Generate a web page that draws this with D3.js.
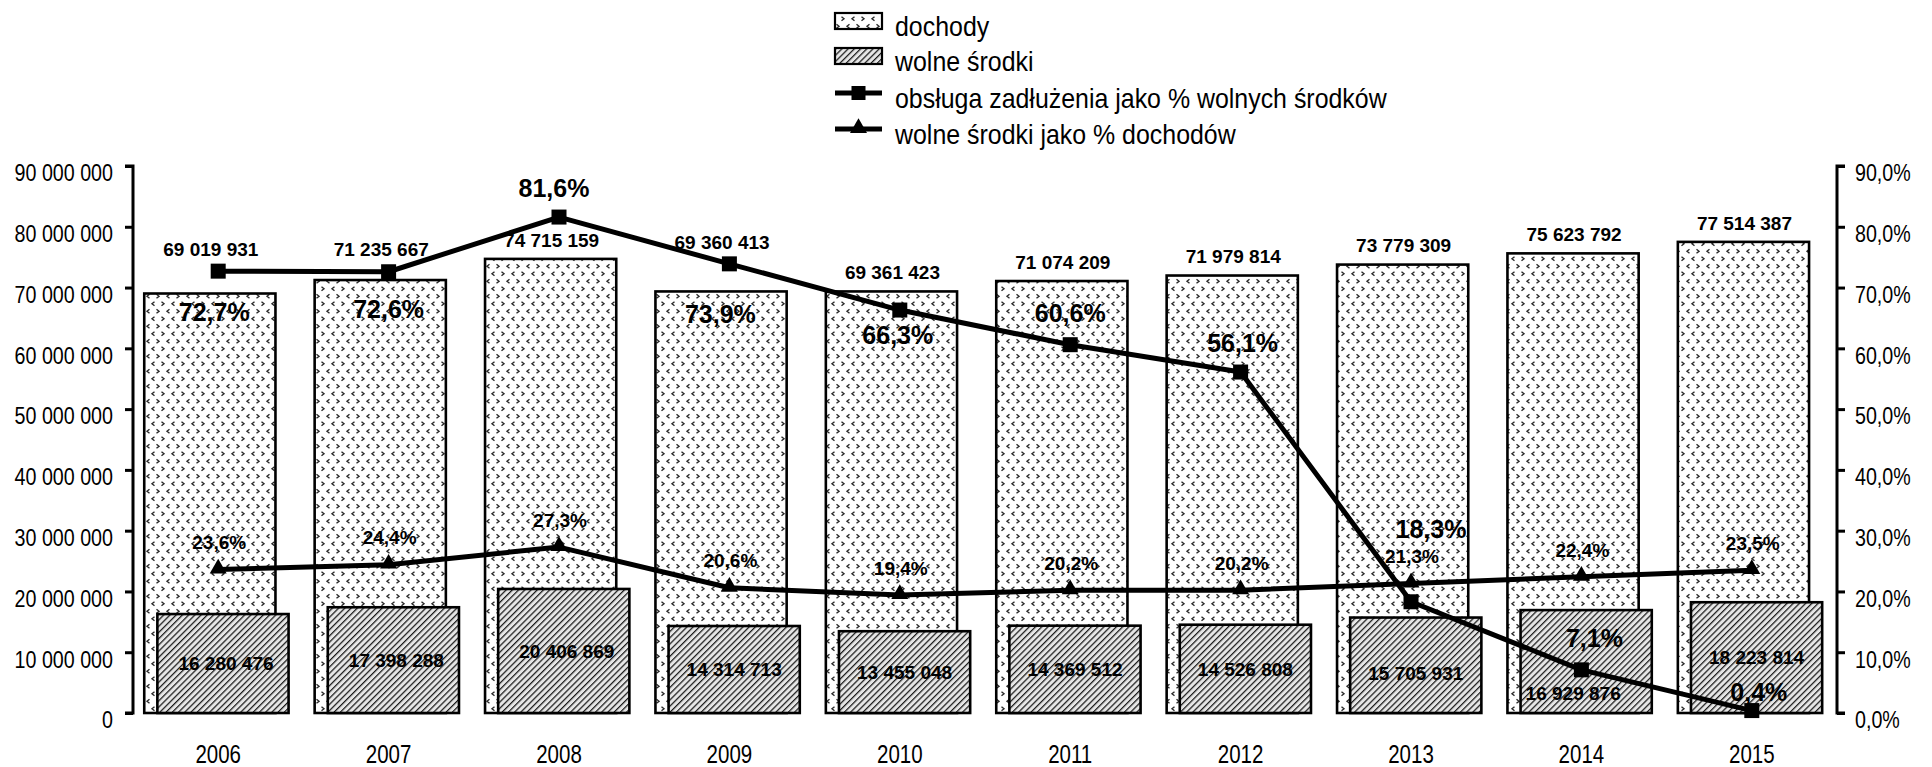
<!DOCTYPE html>
<html>
<head>
<meta charset="utf-8">
<script src="https://cdn.jsdelivr.net/npm/d3@7"></script>
<style>
  html, body { margin: 0; padding: 0; background: #fff; }
  svg { display: block; }
  .narrow { font-family: 'Liberation Sans', Arial, sans-serif; }
  .bold { font-family: 'Liberation Sans', Arial, sans-serif; font-weight: bold; }
</style>
</head>
<body>
<svg id="chart" width="1932" height="767"></svg>
<script>
// ---------------- data ----------------
const years = ['2006','2007','2008','2009','2010','2011','2012','2013','2014','2015'];
const dochody = [69019931, 71235667, 74715159, 69360413, 69361423, 71074209, 71979814, 73779309, 75623792, 77514387];
const wolneSrodki = [16280476, 17398288, 20406869, 14314713, 13455048, 14369512, 14526808, 15705931, 16929876, 18223814];
const obslugaPct = [72.7, 72.6, 81.6, 73.9, 66.3, 60.6, 56.1, 18.3, 7.1, 0.4];
const wolnePct = [23.6, 24.4, 27.3, 20.6, 19.4, 20.2, 20.2, 21.3, 22.4, 23.5];
const leftTicks = [0, 10e6, 20e6, 30e6, 40e6, 50e6, 60e6, 70e6, 80e6, 90e6];
const rightTicks = [0, 10, 20, 30, 40, 50, 60, 70, 80, 90];
const legendLabels = ['dochody', 'wolne środki', 'obsługa zadłużenia jako % wolnych środków', 'wolne środki jako % dochodów'];

// ---------------- layout (label nudges relative to data points) ----------------
const obslugaLabelOffset = [[-4,41],[0,37],[-5,-29],[-9,50],[-2,25],[0,-31],[2,-29],[20,-73],[13,-32],[7,-18]];
const wolneLabelOffset = [[3,0],[3,0],[3,0],[0,0],[0,0],[0,0],[0,0],[0,8],[-13,32],[0,0]];

const svg = d3.select('#chart');
const plotL = 133, plotR = 1837, plotT = 166, plotB = 713;
const SX = 0.82;   // horizontal compression to imitate a narrow face
const SXL = 0.89;  // legend text compression

const loc = d3.formatLocale({decimal: ',', thousands: ' ', grouping: [3], currency: ['', '']});
const fmtInt = loc.format(',d');
const fmtPct = v => loc.format('.1f')(v) + '%';

const x = d3.scaleBand().domain(years).range([plotL, plotR]).paddingInner(0).paddingOuter(0);
const yL = d3.scaleLinear().domain([0, 90e6]).range([plotB, plotT]);
const yR = d3.scaleLinear().domain([0, 90]).range([plotB, plotT]);
const bw = x.bandwidth();
const cx = d => x(d) + bw / 2;
const barW = bw * 0.77;
const dochX = d => cx(d) - bw * 0.434;
const wolnX = d => dochX(d) + bw * 0.077;

// ---------------- patterns ----------------
const defs = svg.append('defs');
const chev = defs.append('pattern').attr('id', 'chev').attr('patternUnits', 'userSpaceOnUse')
  .attr('width', 20).attr('height', 15);
chev.append('rect').attr('width', 20).attr('height', 15).attr('fill', '#fff');
const chevPaths = [
  'M1.5,1.8 L4,3.8 L1.5,5.8', 'M14.5,1.8 L12,3.8 L14.5,5.8',
  'M9.5,9.3 L7,11.3 L9.5,13.3', 'M16.5,9.3 L19,11.3 L16.5,13.3'
];
chevPaths.forEach(p => chev.append('path').attr('d', p).attr('fill', 'none')
  .attr('stroke', '#2a2a2a').attr('stroke-width', 1.4));

const hatch = defs.append('pattern').attr('id', 'hatch').attr('patternUnits', 'userSpaceOnUse')
  .attr('width', 4.4).attr('height', 4.4).attr('patternTransform', 'rotate(45)');
hatch.append('rect').attr('width', 4.4).attr('height', 4.4).attr('fill', '#e6e6e6');
hatch.append('line').attr('x1', 0.6).attr('y1', 0).attr('x2', 0.6).attr('y2', 4.4)
  .attr('stroke', '#1a1a1a').attr('stroke-width', 1.3);

// ---------------- bars ----------------
svg.append('g').selectAll('rect').data(years).join('rect')
  .attr('x', d => dochX(d)).attr('width', barW)
  .attr('y', (d, i) => yL(dochody[i])).attr('height', (d, i) => yL(0) - yL(dochody[i]))
  .attr('fill', 'url(#chev)').attr('stroke', '#000').attr('stroke-width', 2.6);

svg.append('g').selectAll('rect').data(years).join('rect')
  .attr('x', d => wolnX(d)).attr('width', barW)
  .attr('y', (d, i) => yL(wolneSrodki[i])).attr('height', (d, i) => yL(0) - yL(wolneSrodki[i]))
  .attr('fill', 'url(#hatch)').attr('stroke', '#000').attr('stroke-width', 2.6);

// ---------------- axes ----------------
const axL = svg.append('g').attr('transform', `translate(${plotL},0)`)
  .call(d3.axisLeft(yL).tickValues(leftTicks).tickFormat(fmtInt).tickSize(8).tickPadding(12));
const axR = svg.append('g').attr('transform', `translate(${plotR},0)`)
  .call(d3.axisRight(yR).tickValues(rightTicks).tickFormat(fmtPct).tickSize(8).tickPadding(10));
axL.select('.domain').attr('d', `M-8,${plotB}H0V${plotT}H-8`);
axR.select('.domain').attr('d', `M8,${plotB}H0V${plotT}H8`);
[axL, axR].forEach(ax => {
  ax.attr('font-family', null).attr('font-size', null);
  ax.select('.domain').attr('stroke', '#000').attr('stroke-width', 3).attr('fill', 'none');
  ax.selectAll('.tick line').attr('stroke', '#000').attr('stroke-width', 3);
  ax.selectAll('.tick text').attr('class', 'narrow').attr('font-size', 24).attr('fill', '#000')
    .attr('dy', '0.62em')
    .attr('x', function () { return (+d3.select(this).attr('x')) / SX; })
    .attr('transform', `scale(${SX},1)`);
});

const narrowAt = (sel, fx, fy, s) => sel.attr('x', 0).attr('y', 0)
  .attr('transform', (d, i) => `translate(${fx(d, i)},${fy(d, i)}) scale(${s || SX},1)`);

svg.append('g').selectAll('text').data(years).join('text')
  .attr('class', 'narrow').attr('font-size', 25).attr('text-anchor', 'middle')
  .attr('dy', '0.35em').text(d => d)
  .call(narrowAt, d => cx(d), () => plotB + 41);

// ---------------- lines ----------------
const lineGen = d3.line().x((d, i) => cx(years[i])).y(d => yR(d));
svg.append('path').datum(wolnePct).attr('d', lineGen)
  .attr('fill', 'none').attr('stroke', '#000').attr('stroke-width', 5).attr('stroke-linejoin', 'round');
svg.append('path').datum(obslugaPct).attr('d', lineGen)
  .attr('fill', 'none').attr('stroke', '#000').attr('stroke-width', 5).attr('stroke-linejoin', 'round');

const tri = d3.symbol().type(d3.symbolTriangle).size(125);
svg.append('g').selectAll('path').data(wolnePct).join('path')
  .attr('d', tri).attr('transform', (d, i) => `translate(${cx(years[i])},${yR(d) - 1})`).attr('fill', '#000');
svg.append('g').selectAll('rect').data(obslugaPct).join('rect')
  .attr('x', (d, i) => cx(years[i]) - 7.5).attr('y', d => yR(d) - 7.5)
  .attr('width', 15).attr('height', 15).attr('fill', '#000');

// ---------------- labels ----------------
svg.append('g').selectAll('text').data(dochody).join('text')
  .attr('class', 'bold').attr('font-size', 19).attr('text-anchor', 'middle')
  .attr('x', (d, i) => dochX(years[i]) + barW / 2 + 1)
  .attr('y', (d, i) => {
    const barTop = yL(d), m = yR(obslugaPct[i]);
    let yy = barTop - 19;
    if (m < barTop + 5 && m > barTop - 35) yy = Math.min(yy, m - 22);
    return yy;
  })
  .attr('dy', '0.35em').text(d => fmtInt(d));

svg.append('g').selectAll('text').data(wolneSrodki).join('text')
  .attr('class', 'bold').attr('font-size', 19).attr('text-anchor', 'middle')
  .attr('x', (d, i) => wolnX(years[i]) + barW / 2 + wolneLabelOffset[i][0])
  .attr('y', (d, i) => (yL(d) + yL(0)) / 2 + wolneLabelOffset[i][1])
  .attr('dy', '0.35em').text(d => fmtInt(d));

svg.append('g').selectAll('text').data(wolnePct).join('text')
  .attr('class', 'bold').attr('font-size', 19).attr('text-anchor', 'middle')
  .attr('x', (d, i) => cx(years[i]) + 1)
  .attr('y', d => yR(d) - 27)
  .attr('dy', '0.35em').text(d => fmtPct(d));

svg.append('g').selectAll('text').data(obslugaPct).join('text')
  .attr('class', 'bold').attr('font-size', 25).attr('text-anchor', 'middle')
  .attr('x', (d, i) => cx(years[i]) + obslugaLabelOffset[i][0])
  .attr('y', (d, i) => yR(d) + obslugaLabelOffset[i][1])
  .attr('dy', '0.35em').text(d => fmtPct(d));

// ---------------- legend ----------------
const lg = svg.append('g');
const lx = 835, lw = 47, rowY = [21, 56, 93, 129];
lg.append('rect').attr('x', lx).attr('y', rowY[0] - 8).attr('width', lw).attr('height', 16)
  .attr('fill', 'url(#chev)').attr('stroke', '#000').attr('stroke-width', 2.2);
lg.append('rect').attr('x', lx).attr('y', rowY[1] - 8).attr('width', lw).attr('height', 16)
  .attr('fill', 'url(#hatch)').attr('stroke', '#000').attr('stroke-width', 2.2);
[2, 3].forEach(k => {
  lg.append('line').attr('x1', lx).attr('x2', lx + lw).attr('y1', rowY[k]).attr('y2', rowY[k])
    .attr('stroke', '#000').attr('stroke-width', 5);
});
lg.append('rect').attr('x', lx + lw / 2 - 7).attr('y', rowY[2] - 7).attr('width', 14).attr('height', 14).attr('fill', '#000');
lg.append('path').attr('d', tri).attr('transform', `translate(${lx + lw / 2},${rowY[3] - 1})`).attr('fill', '#000');
lg.selectAll('text').data(legendLabels).join('text')
  .attr('class', 'narrow').attr('font-size', 28)
  .attr('dy', '0.35em').text(d => d)
  .call(narrowAt, () => lx + lw + 13, (d, i) => rowY[i] + 5, SXL);
</script>
</body>
</html>
